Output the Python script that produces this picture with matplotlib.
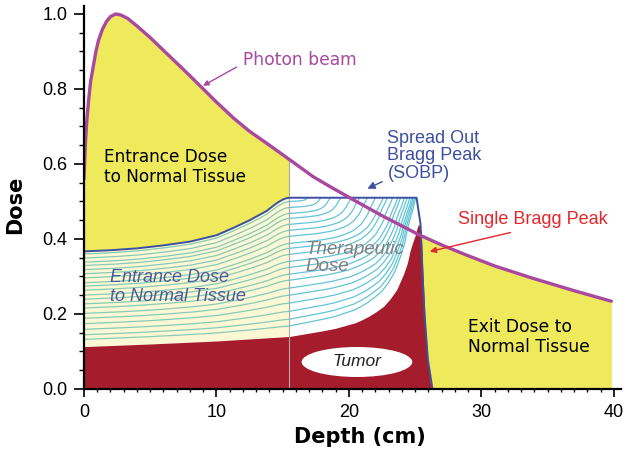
import numpy as np
import matplotlib.pyplot as plt
from matplotlib.patches import Ellipse

# photon beam depth dose
photon_x = [0, 0.1, 0.2, 0.35, 0.5, 0.7, 0.9, 1.1, 1.4, 1.7, 2.0, 2.4, 2.8, 3.3, 4.0,
            5.0, 6.0, 6.8, 8.0, 8.8, 10.0, 11.3, 12.5, 13.8, 15.5, 17.3, 18.7, 20.1,
            22.5, 25.3, 27.0, 28.8, 31.0, 33.8, 37.0, 39.8]
photon_y = [0.56, 0.65, 0.71, 0.77, 0.82, 0.86, 0.9, 0.93, 0.96, 0.98, 0.993, 1.0,
            0.997, 0.988, 0.968, 0.937, 0.903, 0.876, 0.835, 0.807, 0.765, 0.722,
            0.687, 0.655, 0.612, 0.566, 0.537, 0.509, 0.462, 0.411, 0.384, 0.358,
            0.328, 0.296, 0.262, 0.234]

# spread out bragg peak envelope
sobp_x = [0, 2, 4, 6, 8, 10, 11.3, 12.5, 13.8, 14.3, 14.7, 15.0, 15.3, 15.6, 25.1,
          25.4, 25.55, 25.7, 25.95, 26.3]
sobp_y = [0.367, 0.37, 0.375, 0.383, 0.393, 0.41, 0.43, 0.45, 0.475, 0.489, 0.499,
          0.505, 0.509, 0.51, 0.51, 0.44, 0.3, 0.2, 0.08, 0.0]

# single (deepest) bragg peak
bragg_x = [0, 5, 10, 15.5, 17, 18, 19, 19.8, 20.5, 21, 21.5, 22, 22.6, 23.1, 23.6,
           24.1, 24.4, 24.6, 24.8, 25.0, 25.15, 25.25, 25.45, 25.6, 25.75, 26.0, 26.2]
bragg_y = [0.113, 0.12, 0.128, 0.14, 0.149, 0.155, 0.162, 0.17, 0.177, 0.185, 0.194,
           0.205, 0.22, 0.24, 0.265, 0.305, 0.335, 0.367, 0.39, 0.41, 0.43, 0.44,
           0.42, 0.3, 0.18, 0.06, 0.0]

# stacked pristine peaks: level at start of plateau and depth where each meets it
line_levels = [0.500, 0.484, 0.468, 0.455, 0.439, 0.423, 0.407, 0.388, 0.375, 0.359,
               0.340, 0.324, 0.306, 0.290, 0.269, 0.250, 0.229, 0.207, 0.186, 0.168]
line_ends = [16.9, 17.9, 18.6, 19.4, 20.2, 20.8, 21.4, 22.0, 22.6, 22.9,
             23.3, 23.7, 23.9, 24.2, 24.4, 24.6, 24.75, 24.85, 24.95, 25.05]

plateau_start = 15.5
plateau_top = 0.51
bragg_peak_x = 25.25

yellow = '#efe95c'
cream = '#fcf8d6'
red = '#a51d2d'
purple = '#a8489f'
blue = '#3d4f9f'

fig = plt.figure(figsize=(6.3, 4.53), dpi=100)
ax = fig.add_axes([0.1333, 0.1413, 0.8518, 0.8444])

px = np.array(photon_x)
py = np.array(photon_y)

# exit region
m = px >= 25.3
ax.fill_between(px[m], 0, py[m], color=yellow, lw=0, zorder=1)

# entrance region above sobp
xl = np.linspace(0, plateau_start, 300)
ph_l = np.interp(xl, photon_x, photon_y)
env_l = np.interp(xl, sobp_x, sobp_y)
red_l = np.interp(xl, bragg_x, bragg_y)
ax.fill_between(xl, env_l, ph_l, color=yellow, lw=0, zorder=1)
ax.fill_between(xl, red_l, env_l, color=cream, lw=0, zorder=1)

# therapeutic region
xm = np.linspace(plateau_start, sobp_x[-1], 300)
ax.fill_between(xm, 0, np.interp(xm, sobp_x, sobp_y), color='white', lw=0, zorder=2)

# stacked peaks
r_start = np.interp(plateau_start, bragg_x, bragg_y)
r_peak = np.interp(bragg_peak_x, bragg_x, bragg_y)
for lev, end in zip(line_levels, line_ends):
    f = (lev - r_start) / (plateau_top - r_start)
    ax.plot(xl, red_l + f * (env_l - red_l), color='#86cbb6', lw=0.9, zorder=3)
    xa = np.linspace(plateau_start, end, 150)
    u = (xa - plateau_start) / (end - plateau_start)
    t = plateau_start + u * (bragg_peak_x - plateau_start)
    g = (np.interp(t, bragg_x, bragg_y) - r_start) / (r_peak - r_start)
    ax.plot(xa, lev + (plateau_top - lev) * g, color='#62c4d6', lw=0.9, zorder=3)

# single bragg peak
ax.fill_between(bragg_x, 0, bragg_y, color=red, lw=0, zorder=4)

ax.plot([plateau_start, plateau_start], [0, np.interp(plateau_start, photon_x, photon_y)],
        color='#a8a8a8', lw=0.8, zorder=4.5)

ax.add_patch(Ellipse((20.6, 0.072), 8.35, 0.08, facecolor='white', edgecolor='none', zorder=5))
ax.text(20.6, 0.072, 'Tumor', fontsize=12.5, style='italic', family='Liberation Sans',
        color='#222222', ha='center', va='center', zorder=6)

ax.plot(sobp_x, sobp_y, color=blue, lw=1.4, zorder=6)
ax.plot(photon_x, photon_y, color=purple, lw=2.4, zorder=7, solid_capstyle='round',
        solid_joinstyle='round')

# labels
ax.text(12.0, 0.877, 'Photon beam', fontsize=12.3, color=purple, ha='left', va='center',
        family='DejaVu Sans', zorder=8)
ax.annotate('', xy=(8.8, 0.805), xytext=(11.7, 0.862),
            arrowprops=dict(arrowstyle='-|>', color=purple, lw=1.0, mutation_scale=8), zorder=8)

ax.text(22.9, 0.622, 'Spread Out\nBragg Peak\n(SOBP)', fontsize=13, color=blue,
        family='Liberation Sans', ha='left', va='center', linespacing=1.05, zorder=8)
ax.annotate('', xy=(21.2, 0.531), xytext=(22.7, 0.556),
            arrowprops=dict(arrowstyle='-|>', color=blue, lw=1.0, mutation_scale=11), zorder=8)

ax.text(28.2, 0.451, 'Single Bragg Peak', fontsize=13, color='#e5262b',
        family='Liberation Sans', ha='left', va='center', zorder=8)
ax.annotate('', xy=(25.9, 0.365), xytext=(32.4, 0.419),
            arrowprops=dict(arrowstyle='-|>', color='#e5262b', lw=1.0, mutation_scale=9), zorder=8)

ax.text(1.5, 0.592, 'Entrance Dose\nto Normal Tissue', fontsize=12.2, color='black',
        family='DejaVu Sans', ha='left', va='center', linespacing=1.15, zorder=8)
ax.text(1.96, 0.272, 'Entrance Dose\nto Normal Tissue', fontsize=13, color='#4c5a9c',
        style='italic', family='Liberation Sans', ha='left', va='center',
        linespacing=1.1, zorder=8)
ax.text(16.7, 0.349, 'Therapeutic\nDose', fontsize=13.5, color='#808080', style='italic',
        family='Liberation Sans', ha='left', va='center', linespacing=1.05, zorder=8)
ax.text(29.0, 0.139, 'Exit Dose to\nNormal Tissue', fontsize=12.3, color='black',
        family='DejaVu Sans', ha='left', va='center', linespacing=1.15, zorder=8)

ax.set_xlim(0, 40.5)
ax.set_ylim(0, 1.02)
ax.set_xticks([0, 10, 20, 30, 40])
ax.set_xticks(np.arange(0, 41, 1), minor=True)
ax.set_yticks([0.0, 0.2, 0.4, 0.6, 0.8, 1.0])
ax.set_yticks(np.arange(0, 1.01, 0.05), minor=True)
ax.set_yticklabels(['0.0', '0.2', '0.4', '0.6', '0.8', '1.0'])
for lab in ax.get_xticklabels() + ax.get_yticklabels():
    lab.set_family('Liberation Sans')
    lab.set_fontsize(13)
ax.tick_params(which='major', direction='out', length=7, width=1.2, pad=5)
ax.tick_params(which='minor', direction='out', length=3.5, width=1.0)
ax.tick_params(axis='x', which='major', length=6)
ax.tick_params(axis='x', which='minor', length=2.5)
for s in ['top', 'right']:
    ax.spines[s].set_visible(False)
for s in ['left', 'bottom']:
    ax.spines[s].set_linewidth(1.6)
    ax.spines[s].set_zorder(9)

fig.text(360 / 630, 1 - 437 / 453, 'Depth (cm)', fontsize=15, fontweight='bold',
         family='DejaVu Sans', ha='center', va='center')
fig.text(15 / 630, 1 - 205 / 453, 'Dose', fontsize=15, fontweight='bold',
         family='DejaVu Sans', ha='center', va='center', rotation=90)

fig.savefig('out.png', dpi=100)
